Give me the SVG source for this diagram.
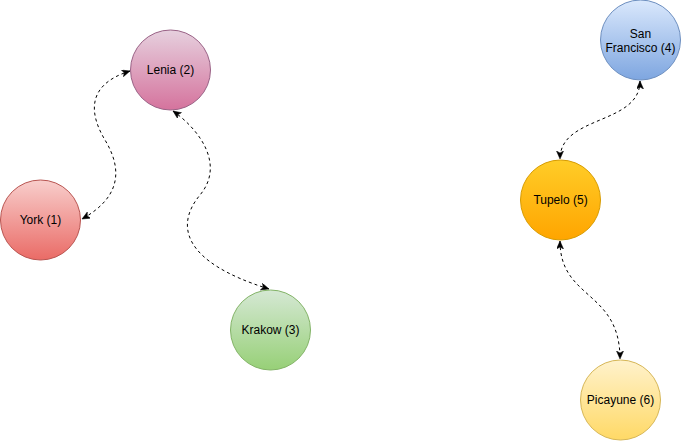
<svg xmlns="http://www.w3.org/2000/svg" width="681" height="441" viewBox="0 0 681 441">
<style>
.node text{font-family:"Liberation Sans",Arial,sans-serif;font-size:12px;fill:#000;text-anchor:middle}
.edge{fill:none;stroke:#000;stroke-width:1;stroke-dasharray:3,3;marker-start:url(#arr);marker-end:url(#arr)}
</style>
<defs>
<marker id="arr" markerUnits="userSpaceOnUse" markerWidth="10" markerHeight="8" refX="8" refY="3.5" orient="auto-start-reverse">
<path d="M0,0 L8,3.5 L0,7 L2,3.5 Z" fill="#000" stroke="#000" stroke-width="0.5"/>
</marker>
<linearGradient id="gPink" x1="0" y1="0" x2="0" y2="1"><stop offset="0" stop-color="#e6d0de"/><stop offset="1" stop-color="#d5739d"/></linearGradient>
<linearGradient id="gRed" x1="0" y1="0" x2="0" y2="1"><stop offset="0" stop-color="#f8cecc"/><stop offset="1" stop-color="#ea6b66"/></linearGradient>
<linearGradient id="gGreen" x1="0" y1="0" x2="0" y2="1"><stop offset="0" stop-color="#d5e8d4"/><stop offset="1" stop-color="#97d077"/></linearGradient>
<linearGradient id="gBlue" x1="0" y1="0" x2="0" y2="1"><stop offset="0" stop-color="#dae8fc"/><stop offset="1" stop-color="#7ea6e0"/></linearGradient>
<linearGradient id="gOrange" x1="0" y1="0" x2="0" y2="1"><stop offset="0" stop-color="#ffcd28"/><stop offset="1" stop-color="#ffa500"/></linearGradient>
<linearGradient id="gYellow" x1="0" y1="0" x2="0" y2="1"><stop offset="0" stop-color="#fff2cc"/><stop offset="1" stop-color="#ffd966"/></linearGradient>
</defs>
<rect width="681" height="441" fill="#fff"/>
<g id="connectors">
<path class="edge" d="M130,71 C85,85 90,115 105,140 S125,195 82,219"/>
<path class="edge" d="M173,111 C200,130 225,165 200,195 S182,262 269,289"/>
<path class="edge" d="M640,81 C640,125 560,115 560,159"/>
<path class="edge" d="M560,241 C560,300 620,290 620,359"/>
</g>
<g id="node-lenia" class="node"><circle cx="170.5" cy="70" r="40" fill="url(#gPink)" stroke="#996185"/><text x="170.5" y="74">Lenia (2)</text></g>
<g id="node-york" class="node"><circle cx="40.5" cy="220" r="40" fill="url(#gRed)" stroke="#b85450"/><text x="40.5" y="224">York (1)</text></g>
<g id="node-krakow" class="node"><circle cx="270.5" cy="330" r="40" fill="url(#gGreen)" stroke="#82b366"/><text x="270.5" y="334">Krakow (3)</text></g>
<g id="node-sf" class="node"><circle cx="640.5" cy="40" r="40" fill="url(#gBlue)" stroke="#6c8ebf"/><text x="640.5" y="37.5">San</text><text x="640.5" y="51.5">Francisco (4)</text></g>
<g id="node-tupelo" class="node"><circle cx="560.5" cy="200" r="40" fill="url(#gOrange)" stroke="#d79b00"/><text x="560.5" y="204">Tupelo (5)</text></g>
<g id="node-picayune" class="node"><circle cx="620.5" cy="400" r="40" fill="url(#gYellow)" stroke="#d6b656"/><text x="620.5" y="404">Picayune (6)</text></g>
</svg>
